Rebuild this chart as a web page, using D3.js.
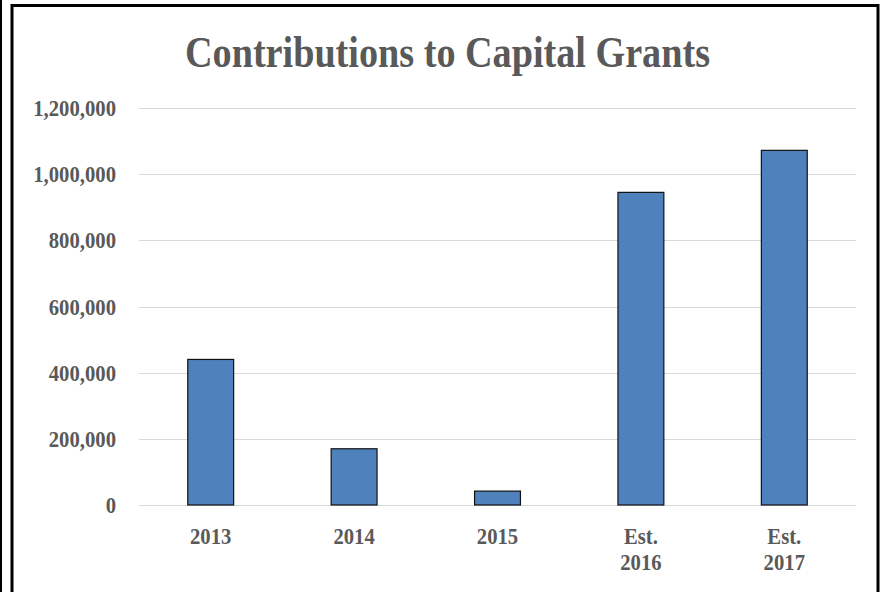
<!DOCTYPE html>
<html><head><meta charset="utf-8">
<script src="https://cdn.jsdelivr.net/npm/d3@7"></script>
<style>html,body{margin:0;padding:0;background:#fff;}svg{display:block;}</style>
</head><body>
<svg id="chart" width="881" height="592"></svg>
<script>
const categories = [["2013"], ["2014"], ["2015"], ["Est.", "2016"], ["Est.", "2017"]];
const values = [440000, 170000, 42000, 945000, 1072000];
const yTicks = [0, 200000, 400000, 600000, 800000, 1000000, 1200000];
const title = "Contributions to Capital Grants";

const svg = d3.select("#chart");
const font = "'Liberation Serif', 'Times New Roman', serif";
const grey = "#595959";
const fs = 22.5, squeeze = 0.92;

// frame
svg.append("rect").attr("x", 12).attr("y", 5.5).attr("width", 866).attr("height", 600)
  .attr("fill", "none").attr("stroke", "#000").attr("stroke-width", 3);
svg.append("line").attr("x1", 1).attr("x2", 1).attr("y1", 0).attr("y2", 592)
  .attr("stroke", "#000").attr("stroke-width", 2);

const plotLeft = 139, plotRight = 856, plotTop = 108, plotBottom = 505;
const x = d3.scaleBand().domain(categories.map((c, i) => i)).range([plotLeft, plotRight])
  .paddingInner(0.68).paddingOuter(0.34);
const y = d3.scaleLinear().domain([0, 1200000]).range([plotBottom, plotTop]);

// gridlines
svg.append("g").selectAll("line").data(yTicks).join("line")
  .attr("x1", plotLeft).attr("x2", plotRight)
  .attr("y1", d => Math.round(y(d)) + 0.5).attr("y2", d => Math.round(y(d)) + 0.5)
  .attr("stroke", "#d9d9d9").attr("stroke-width", 1);

// y labels
const fmt = d3.format(",");
svg.append("g").selectAll("text").data(yTicks).join("text")
  .attr("transform", d => `translate(116,${y(d) + 8}) scale(${squeeze},1)`)
  .attr("text-anchor", "end")
  .attr("font-family", font).attr("font-weight", "bold").attr("font-size", fs)
  .attr("fill", grey).text(d => fmt(d));

// bars
svg.append("g").selectAll("rect").data(values).join("rect")
  .attr("x", (d, i) => x(i)).attr("width", x.bandwidth())
  .attr("y", d => y(d)).attr("height", d => plotBottom - y(d))
  .attr("fill", "#4F81BD").attr("stroke", "#111").attr("stroke-width", 1.2);

// x labels
const xl = svg.append("g").selectAll("text").data(categories).join("text")
  .attr("transform", (d, i) => `translate(${x(i) + x.bandwidth() / 2},544) scale(${squeeze},1)`)
  .attr("text-anchor", "middle")
  .attr("font-family", font).attr("font-weight", "bold").attr("font-size", fs)
  .attr("fill", grey);
xl.each(function(d) {
  d3.select(this).selectAll("tspan").data(d).join("tspan")
    .attr("x", 0)
    .attr("dy", (t, j) => j === 0 ? 0 : 26)
    .text(t => t);
});

// title
svg.append("text").attr("x", 447.5).attr("y", 67)
  .attr("text-anchor", "middle")
  .attr("font-family", font).attr("font-weight", "bold").attr("font-size", 45)
  .attr("textLength", 525).attr("lengthAdjust", "spacingAndGlyphs")
  .attr("fill", grey).text(title);
</script>
</body></html>
